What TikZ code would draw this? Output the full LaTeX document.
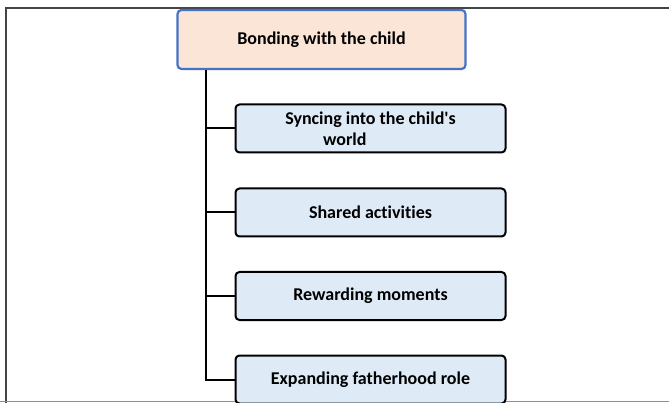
\documentclass[tikz,border=0pt]{standalone}
\usepackage{fontspec}
\setmainfont{Carlito}[Ligatures=CommonOff]
\usetikzlibrary{positioning}
\definecolor{toppeach}{HTML}{FBE5D6}
\definecolor{topblue}{HTML}{4472C4}
\definecolor{subblue}{HTML}{DEEBF7}
\definecolor{framegray}{HTML}{444444}
\begin{document}
\begin{tikzpicture}[x=1pt,y=-1pt,
    topbox/.style={draw=topblue, line width=2.2pt, fill=toppeach, rounded corners=4pt,
        minimum width=288pt, minimum height=59pt, font=\fontsize{18}{21}\selectfont\bfseries},
    subbox/.style={draw=black, line width=2pt, fill=subblue, rounded corners=4pt,
        minimum width=270pt, minimum height=48pt, font=\fontsize{18}{21}\selectfont\bfseries}]
    \useasboundingbox (0,0) rectangle (669,403);
    \clip (0,0) rectangle (669,403);
    % outer frame
    \draw[framegray, line width=2pt] (6,403) -- (6,8.5) -- (669,8.5);
    \draw[framegray!60, line width=1.5pt] (0,401.5) -- (669,401.5);
    % boxes
    \node[topbox] (bond) at (321.5,39.5) {Bonding with the child};
    \node[subbox, align=left] (sync) at (370.5,128.5) {Syncing into the child\textquotesingle s\\\hspace*{2.1em}world};
    \node[subbox] (shared) at (370.5,212.5) {Shared activities};
    \node[subbox] (reward) at (370.5,296) {Rewarding moments};
    \node[subbox] (expand) at (370.5,379.5) {Expanding fatherhood role};
    % connectors
    \coordinate (trunk) at ([xshift=29.5pt]bond.south west);
    \draw[line width=2pt] (trunk) |- (expand.west);
    \foreach \s in {sync,shared,reward}
        \draw[line width=2pt] (trunk |- \s.west) -- (\s.west);
\end{tikzpicture}
\end{document}
